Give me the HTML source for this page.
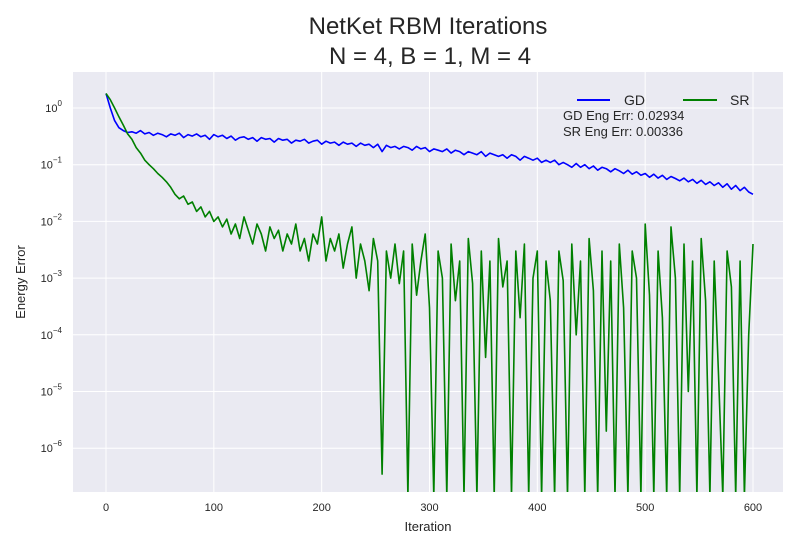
<!DOCTYPE html>
<html><head><meta charset="utf-8"><style>
html,body{margin:0;padding:0;background:#fff;font-family:"Liberation Sans",sans-serif;overflow:hidden;width:800px;height:550px}
svg{display:block}
svg text{font-family:"Liberation Sans",sans-serif;fill:#262626}
</style></head><body>
<svg id="chart" width="800" height="550" viewBox="0 0 800 550">
<defs><clipPath id="plotclip"><rect x="73" y="72" width="710" height="420"/></clipPath></defs>
<rect x="73" y="72" width="710" height="420" fill="#eaeaf2"/>
<g id="grid"></g>
<g id="ticks"></g>
<g id="series" clip-path="url(#plotclip)"></g>
<text x="428" y="34" font-size="24" text-anchor="middle">NetKet RBM Iterations</text>
<text x="430" y="64" font-size="24" text-anchor="middle">N = 4, B = 1, M = 4</text>
<text x="428" y="531" font-size="13" text-anchor="middle">Iteration</text>
<text x="25" y="282" font-size="13" text-anchor="middle" transform="rotate(-90 25 282)">Energy Error</text>
<g>
<line x1="577" y1="100" x2="610" y2="100" stroke="#0000ff" stroke-width="2"/>
<text x="624" y="105" font-size="14">GD</text>
<line x1="683" y1="100" x2="717" y2="100" stroke="#008000" stroke-width="2"/>
<text x="730" y="105" font-size="14">SR</text>
</g>
<text x="563" y="120" font-size="13">GD Eng Err: 0.02934</text>
<text x="563" y="136" font-size="13">SR Eng Err: 0.00336</text>
</svg>
<script>
const step = 4;
const xTicks = [0,100,200,300,400,500,600];
const yTickExps = [0,-1,-2,-3,-4,-5,-6];
const gdValues = [1.8,1.0,0.6,0.45,0.4,0.37,0.38,0.36,0.4,0.35,0.37,0.33,0.36,0.34,0.31,0.35,0.33,0.36,0.3,0.34,0.32,0.35,0.31,0.33,0.28,0.34,0.31,0.33,0.29,0.32,0.27,0.3,0.31,0.28,0.3,0.26,0.3,0.28,0.29,0.25,0.29,0.27,0.28,0.24,0.27,0.26,0.28,0.24,0.26,0.27,0.23,0.26,0.24,0.25,0.22,0.25,0.23,0.24,0.21,0.24,0.22,0.23,0.2,0.23,0.17,0.22,0.2,0.21,0.19,0.21,0.2,0.18,0.21,0.19,0.2,0.17,0.19,0.18,0.17,0.19,0.16,0.18,0.17,0.15,0.17,0.16,0.15,0.17,0.14,0.16,0.15,0.14,0.15,0.13,0.15,0.14,0.12,0.14,0.13,0.12,0.13,0.11,0.12,0.11,0.12,0.1,0.11,0.1,0.09,0.105,0.09,0.1,0.085,0.095,0.08,0.09,0.085,0.075,0.085,0.078,0.07,0.08,0.068,0.075,0.065,0.07,0.06,0.068,0.058,0.065,0.055,0.062,0.057,0.052,0.058,0.05,0.055,0.047,0.053,0.045,0.05,0.043,0.048,0.04,0.046,0.037,0.043,0.035,0.04,0.033,0.03];
const srValues = [1.8,1.4,1.0,0.7,0.5,0.35,0.28,0.2,0.16,0.12,0.1,0.085,0.07,0.06,0.05,0.04,0.03,0.025,0.028,0.02,0.022,0.015,0.018,0.012,0.015,0.01,0.012,0.008,0.011,0.006,0.009,0.005,0.012,0.007,0.004,0.009,0.006,0.003,0.008,0.005,0.007,0.003,0.006,0.004,0.009,0.003,0.005,0.002,0.006,0.004,0.012,0.002,0.005,0.003,0.006,0.0015,0.004,0.008,0.001,0.004,0.002,0.0006,0.005,0.002,3.5e-7,0.003,0.001,0.004,0.0008,0.003,1e-9,0.004,0.0005,0.002,0.006,0.0003,1e-9,0.003,0.001,1e-9,0.004,0.0004,0.002,1e-9,0.005,0.0008,1e-9,0.003,0.00004,0.002,1e-9,0.005,0.0007,0.002,1e-9,0.003,0.0002,0.004,1e-9,0.001,0.003,1e-9,0.002,0.0004,1e-9,0.003,0.0009,1e-9,0.004,0.0001,0.002,1e-9,0.005,0.0006,1e-9,0.003,2e-6,0.002,1e-9,0.004,0.0003,1e-9,0.003,0.001,1e-9,0.009,0.0005,1e-9,0.003,0.0002,1e-9,0.008,0.001,1e-9,0.004,1e-5,0.002,1e-9,0.005,0.0004,1e-9,0.002,0.00002,1e-9,0.003,0.0007,1e-9,0.002,1e-9,0.0001,0.004];

const NS = 'http://www.w3.org/2000/svg';
function xs(v){ return 106 + v*(753-106)/600; }
function ys(v){ return Math.min(496, 108 - Math.log10(v)*56.7); }
function mk(tag, attrs, parent){
  const e = document.createElementNS(NS, tag);
  for (const k in attrs) e.setAttribute(k, attrs[k]);
  parent.appendChild(e); return e;
}
const grid = document.getElementById('grid');
const ticks = document.getElementById('ticks');
xTicks.forEach(t=>{
  const l = mk('line',{x1:xs(t),x2:xs(t),y1:72,y2:492,stroke:'#fff','stroke-width':1},grid);
  
  
  const tx = mk('text',{x:xs(t),y:511,'font-size':11,'text-anchor':'middle'},ticks);
  tx.textContent = t;
  
  
});
yTickExps.forEach(e=>{
  const y = ys(Math.pow(10,e));
  const l = mk('line',{x1:73,x2:783,y1:y,y2:y,stroke:'#fff','stroke-width':1},grid);
  
  
  const tx = mk('text',{x:62,y:y+4,'font-size':11,'text-anchor':'end'},ticks);
  tx.textContent = '10';
  const sp = mk('tspan',{dy:-6,'font-size':8},tx);
  sp.textContent = e===0 ? '0' : '\u2212'+(-e);
  
  
});
const series = document.getElementById('series');
function drawLine(vals, color, name){
  const pts = vals.map((v,i)=>xs(i*step).toFixed(1)+','+ys(v).toFixed(1)).join(' ');
  const p = mk('polyline',{points:pts,fill:'none',stroke:color,'stroke-width':1.6,'stroke-linejoin':'round'},series);
  
  
}
drawLine(gdValues,'#0000ff','gd-series-line');
drawLine(srValues,'#008000','sr-series-line');
</script>
</body></html>
